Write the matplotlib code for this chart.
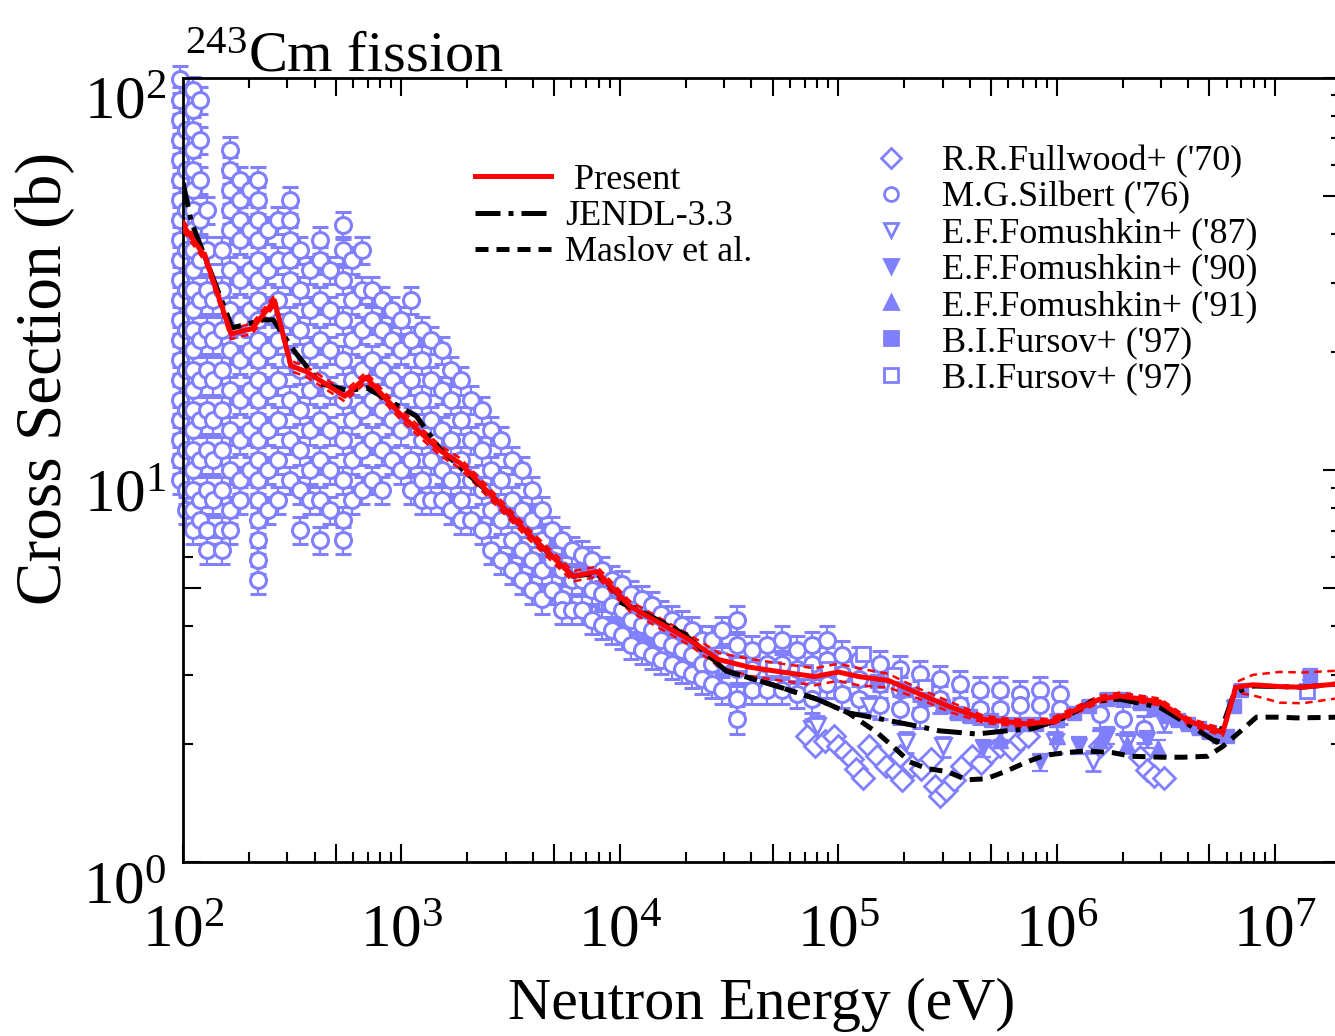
import matplotlib
matplotlib.use("Agg")
import matplotlib.pyplot as plt
import matplotlib.transforms as mtrans
import numpy as np
from matplotlib.ticker import FixedLocator, FuncFormatter
from matplotlib.lines import Line2D

plt.rcParams['font.family'] = ['Liberation Serif', 'DejaVu Serif']
plt.rcParams['mathtext.fontset'] = 'custom'
plt.rcParams['mathtext.rm'] = 'Liberation Serif'
plt.rcParams['mathtext.it'] = 'Liberation Serif:italic'
plt.rcParams['mathtext.bf'] = 'Liberation Serif:bold'

BLUE = '#8080ff'

# ---------------- evaluations ----------------
present_E = [100, 126, 166, 207, 262, 312, 366, 550, 688, 983, 1500, 1853, 2530, 3880,
             6100, 7850, 11100, 20700, 28400, 39000, 55000, 78000, 100000, 124000,
             170000, 229000, 322000, 465000, 730000, 945000, 1.24e6, 1.57e6, 1.94e6,
             2.96e6, 3.96e6, 5.75e6, 6.6e6, 7.9e6, 1.05e7, 1.33e7, 2.0e7]
present_xs = [42, 35, 22.2, 22.9, 27.0, 18.4, 17.8, 15.4, 17.2, 13.9, 11.2, 10.4, 8.7, 6.8,
              5.35, 5.5, 4.49, 3.69, 3.28, 3.14, 3.05, 2.97, 3.05, 2.97,
              2.9, 2.7, 2.49, 2.31, 2.25, 2.28, 2.45, 2.6, 2.65,
              2.56, 2.29, 2.14, 2.79, 2.83, 2.80, 2.79, 2.85]
present_relunc = [0.03, 0.03, 0.03, 0.03, 0.03, 0.03, 0.03, 0.03, 0.03, 0.03, 0.03, 0.03, 0.03, 0.03,
                  0.03, 0.03, 0.03, 0.03, 0.04, 0.05, 0.05, 0.05, 0.05, 0.05,
                  0.04, 0.03, 0.03, 0.02, 0.02, 0.02, 0.02, 0.02, 0.02,
                  0.02, 0.02, 0.02, 0.03, 0.06, 0.09, 0.09, 0.08]

jendl_E = [100, 109, 127, 168, 232, 259, 325, 424, 575, 689, 1170, 1500, 2530, 3880,
           6100, 7850, 11100, 19300, 30600, 50000, 80000, 111000, 160000, 230000,
           290000, 430000, 590000, 780000, 1.1e6, 1.45e6, 1.94e6, 2.96e6, 3.96e6,
           5.4e6, 6.5e6, 7.9e6, 1.33e7, 2.0e7]
jendl_xs = [54, 43, 34.5, 23.0, 24.1, 24.1, 20.0, 16.6, 15.9, 16.2, 13.7, 11.3, 8.7, 6.8,
            5.35, 5.45, 4.5, 3.85, 3.07, 2.83, 2.6, 2.4, 2.31, 2.22,
            2.16, 2.12, 2.16, 2.19, 2.34, 2.57, 2.6, 2.48, 2.25,
            2.02, 2.7, 2.81, 2.79, 2.85]

maslov_E = [10000, 20000, 30600, 50000, 80000, 111000, 150000, 178000, 212000, 255000,
            315000, 387000, 475000, 580000, 730000, 880000, 1.1e6, 1.36e6, 1.8e6, 2.2e6,
            3.0e6, 3.8e6, 4.9e6, 5.75e6, 6.9e6, 8.2e6, 1.05e7, 1.25e7, 2.0e7]
maslov_xs = [4.6, 3.8, 3.07, 2.83, 2.6, 2.4, 2.14, 1.97, 1.80, 1.73,
             1.70, 1.62, 1.63, 1.70, 1.80, 1.87, 1.90, 1.92, 1.90, 1.86,
             1.85, 1.85, 1.86, 1.97, 2.15, 2.34, 2.34, 2.33, 2.34]

# ---------------- experimental data ----------------
silbert_col_E = [97, 103, 111, 120, 129, 137, 151, 164, 182, 203,
                 220, 245, 272, 309, 343, 381, 423, 471, 540, 593,
                 659, 732, 814, 905, 1000, 1110, 1240, 1370, 1530, 1690,
                 1880, 2090, 2330, 2580, 2870, 3190, 3550, 3940, 4380, 4870,
                 5410, 6010, 6680, 7430, 8250, 9170, 10200, 11300, 12600, 14000,
                 15500, 17300, 19200, 21300, 23700, 26300, 29300, 34300, 40200, 47100,
                 55100, 64600, 75700, 88600, 104000, 124000, 155000, 191000, 236000, 291000,
                 360000, 444000, 548000, 677000, 836000, 1030000, 1570000, 2000000, 2500000]
silbert_col_xs = [
    [99, 87.7, 78, 69.3, 61.6, 54.8, 48.7, 43.3, 38.5, 34.3, 30.5, 27.1, 24.1, 21.4, 19.1, 16.9, 15.1, 13.4, 11.9, 10.6, 9.43],
    [73.5, 58.1, 45.9, 36.4, 28.7, 22.7, 18.0, 14.2, 11.2, 8.89, 7.91],
    [92.9, 82.7, 73.5, 65.3, 58.1, 51.7, 45.9, 40.9, 36.4, 32.3, 28.7, 25.6, 22.7, 20.2, 18.0, 16.0, 14.2, 12.6, 11.2, 10.0, 8.89, 7.91, 7.03],
    [87.7, 69.3, 54.8, 43.3, 34.3, 27.1, 21.4, 16.9, 13.4, 10.6, 8.39, 7.46],
    [45.9, 36.4, 28.7, 22.7, 18.0, 14.2, 11.2, 8.89, 7.03, 6.25],
    [27.1, 21.4, 16.9, 13.4, 10.6, 8.39],
    [36.4, 28.7, 22.7, 18.0, 14.2, 11.2, 8.89, 7.03, 6.25],
    [65.3, 58.1, 51.7, 45.9, 40.9, 32.3, 25.6, 20.2, 16.0, 12.6, 10.0, 7.91, 7.03],
    [54.8, 48.7, 43.3, 38.5, 30.5, 24.1, 19.1, 15.1, 11.9, 9.43, 8.39],
    [51.7, 40.9, 32.3, 25.6, 20.2, 16.0, 12.6, 10.0],
    [54.8, 48.7, 43.3, 38.5, 34.3, 30.5, 27.1, 24.1, 21.4, 19.1, 16.9, 15.1, 13.4, 11.9, 10.6, 9.43, 8.39, 7.46, 6.63, 5.90, 5.25],
    [40.9, 32.3, 25.6, 20.2, 16.0, 12.6, 10.0, 7.91],
    [43.3, 34.3, 27.1, 21.4, 16.9, 13.4, 10.6, 8.39],
    [48.7, 43.3, 38.5, 34.3, 30.5, 24.1, 19.1, 15.1, 11.9, 9.43],
    [36.4, 28.7, 22.7, 18.0, 14.2, 11.2, 8.89, 7.03],
    [32.3, 25.6, 20.2, 16.0, 12.6, 10.0, 8.39],
    [38.5, 34.3, 27.1, 21.4, 16.9, 13.4, 10.6, 8.39, 6.63],
    [32.3, 25.6, 20.2, 16.0, 12.6, 10.0, 7.91],
    [42.1, 36.4, 30.5, 24.1, 19.1, 15.1, 11.9, 9.43, 7.46, 6.63],
    [34.3, 27.1, 21.4, 16.9, 13.4, 10.6, 8.39],
    [36.4, 28.7, 22.7, 18.0, 14.2, 11.2, 8.89],
    [28.7, 24.1, 19.1, 15.1, 11.9, 9.43],
    [27.1, 22.7, 18.0, 14.2, 11.2, 8.89],
    [25.6, 21.4, 16.9, 13.4, 10.6],
    [24.1, 20.2, 16.0, 12.6, 10.0],
    [27.1, 21.4, 16.9, 13.4, 10.6, 8.89],
    [22.7, 19.1, 15.1, 11.9, 9.43, 8.39],
    [21.4, 16.9, 13.4, 10.6, 8.39],
    [20.2, 16.0, 12.6, 10.0, 8.39],
    [18.0, 15.1, 11.9, 9.43, 7.91],
    [16.9, 13.4, 10.6, 8.39, 7.46],
    [15.1, 11.9, 9.43, 7.46],
    [14.2, 11.2, 8.89, 7.03],
    [12.6, 10.0, 7.91, 6.25],
    [11.9, 9.43, 7.46, 5.90],
    [10.6, 8.39, 6.63, 5.56],
    [10.0, 7.91, 6.25, 5.25],
    [8.89, 7.46, 5.90, 4.95],
    [7.91, 6.63, 5.56, 4.67],
    [7.03, 5.90, 4.95],
    [6.63, 5.56, 4.67, 4.40],
    [6.25, 5.25, 4.40],
    [6.08, 5.25, 4.40],
    [5.90, 4.95, 4.15],
    [5.56, 4.81, 4.03],
    [5.25, 4.53, 3.91],
    [5.10, 4.40, 3.80],
    [4.81, 4.15, 3.58],
    [4.67, 4.03, 3.48],
    [4.53, 3.91, 3.38],
    [4.28, 3.69, 3.28],
    [4.15, 3.58, 3.19],
    [4.03, 3.48, 3.10],
    [3.91, 3.38, 3.01],
    [3.69, 3.19, 2.92],
    [3.69, 3.19, 2.84],
    [3.91, 3.28, 2.75],
    [4.15, 3.58, 3.10, 2.60, 2.31],
    [3.48, 3.10, 2.75],
    [3.58, 3.19, 2.75],
    [3.69, 3.19, 2.75],
    [3.48, 3.10, 2.68],
    [3.58, 3.19, 2.75, 2.60],
    [3.69, 3.28, 2.84],
    [3.38, 3.01, 2.68],
    [3.28, 2.92, 2.60],
    [3.19, 2.84, 2.52],
    [3.10, 2.75, 2.45],
    [3.01, 2.68, 2.38],
    [2.92, 2.60],
    [2.84, 2.52],
    [2.75, 2.45],
    [2.75, 2.45],
    [2.68, 2.52],
    [2.75, 2.52],
    [2.68, 2.45],
    [2.38],
    [2.31],
    [2.18],
]
silbert_relerr = 0.08

fullwood_E = [72000, 78000, 87000, 96000, 100000, 107000, 115000, 120000, 130000, 138000,
              150000, 166000, 184000, 191000, 196000, 217000, 240000, 265000, 277000, 291000,
              310000, 340000, 370000, 410000, 450000, 500000, 548000, 625000, 677000, 740000,
              1.57e6, 2.4e6, 2.6e6, 2.8e6, 3.1e6]
fullwood_xs = [2.10, 1.98, 2.03, 2.10, 1.97, 1.91, 1.83, 1.73, 1.64, 1.97,
               1.86, 1.76, 1.70, 1.86, 1.62, 1.76, 1.73, 1.83, 1.56, 1.47,
               1.53, 1.62, 1.76, 1.86, 1.79, 1.91, 1.97, 1.94, 2.05, 2.10,
               1.98, 1.85, 1.72, 1.66, 1.64]

fom87_E = [76000, 80000, 138000, 204000, 300000, 548000, 980000, 1.47e6, 2.1e6, 3.1e6]
fom87_xs = [2.18, 2.22, 2.50, 2.02, 1.97, 2.18, 2.02, 1.81, 2.02, 2.28]

fom90_E = [460000, 840000, 1.27e6, 1.7e6, 2.6e6]
fom90_xs = [1.95, 1.80, 1.98, 2.10, 2.05]

fom91_E = [548000, 1.0e6, 1.57e6, 2.1e6, 2.9e6]
fom91_xs = [2.05, 2.10, 2.05, 2.00, 1.95]

fursov_a_E = [150000, 200000, 250000, 300000, 350000, 400000, 500000, 600000, 700000, 800000,
              1.0e6, 1.2e6, 1.4e6, 1.7e6, 2.0e6, 2.4e6, 2.8e6, 3.2e6, 3.6e6, 4.0e6,
              4.5e6, 5.0e6, 5.5e6, 6.0e6, 6.5e6, 7.0e6, 1.45e7]
fursov_a_xs = [2.90, 2.75, 2.60, 2.50, 2.40, 2.35, 2.30, 2.25, 2.25, 2.25,
               2.30, 2.40, 2.50, 2.60, 2.60, 2.55, 2.45, 2.35, 2.30, 2.25,
               2.20, 2.15, 2.10, 2.10, 2.50, 2.75, 3.00]

fursov_b_E = [35000, 50000, 70000, 90000, 130000, 180000, 250000, 1.4e7]
fursov_b_xs = [3.20, 3.10, 3.05, 3.10, 3.40, 3.00, 2.80, 2.73]

# ---------------- figure ----------------
fig = plt.figure(figsize=(13.35, 10.36), dpi=100)
W, H = 1335.0, 1036.0
ax = fig.add_axes([183 / W, (H - 862) / H, (1341 - 183) / W, (862 - 77.5) / H])

sE = []
sX = []
for e, col in zip(silbert_col_E, silbert_col_xs):
    for v in col:
        sE.append(e)
        sX.append(v)
sE = np.array(sE)
sX = np.array(sX)

EBK = dict(ecolor=BLUE, elinewidth=1.6, capsize=6, capthick=1.6)
eb = ax.errorbar(sE, sX, yerr=sX * silbert_relerr, fmt='o', ms=11.5, mfc='white', mec=BLUE,
                 mew=2.2, zorder=2, **EBK)
for art in list(eb.lines[1]) + list(eb.lines[2]):
    art.set_clip_on(False)
eb.lines[0].set_clip_on(False)

ax.errorbar(fom87_E, fom87_xs, yerr=np.array(fom87_xs) * 0.06, fmt='v', ms=11, mfc='white',
            mec=BLUE, mew=2.0, zorder=2, **EBK)
ax.errorbar(fursov_b_E, fursov_b_xs, yerr=np.array(fursov_b_xs) * 0.04, fmt='s', ms=10.5, mfc='white',
            mec=BLUE, mew=2.0, zorder=2, **EBK)
ax.plot(fullwood_E, fullwood_xs, 'D', ms=11, mfc='white', mec=BLUE, mew=2.0, zorder=2.2)
ax.errorbar(fom90_E, fom90_xs, yerr=np.array(fom90_xs) * 0.05, fmt='v', ms=11, mfc=BLUE,
            mec=BLUE, zorder=2.3, **EBK)
ax.errorbar(fom91_E, fom91_xs, yerr=np.array(fom91_xs) * 0.05, fmt='^', ms=11, mfc=BLUE,
            mec=BLUE, zorder=2.3, **EBK)
ax.errorbar(fursov_a_E, fursov_a_xs, yerr=np.array(fursov_a_xs) * 0.03, fmt='s', ms=10.5, mfc=BLUE,
            mec=BLUE, zorder=2.3, **EBK)

pE = np.array(present_E)
pX = np.array(present_xs)
pU = np.array(present_relunc)
ax.plot(pE, pX * (1 + pU), color='red', lw=1.8, dashes=(3, 2.2), zorder=4)
ax.plot(pE, pX * (1 - pU), color='red', lw=1.8, dashes=(3, 2.2), zorder=4)
ax.plot(maslov_E, maslov_xs, color='black', lw=3.6, dashes=(2.6, 1.6), zorder=5)
ax.plot(jendl_E, jendl_xs, color='black', lw=3.6, dashes=(5, 1.6, 1, 1.6), zorder=5)
ax.plot(pE, pX, color='red', lw=3.6, zorder=6)

ax.set_xscale('log')
ax.set_yscale('log')
ax.set_xlim(100, 2e7)
ax.set_ylim(1, 100)

xmaj = [1e2, 5e2, 1e3, 5e3, 1e4, 5e4, 1e5, 5e5, 1e6, 5e6, 1e7]
xmin = [k * 10.0 ** n for n in range(2, 8) for k in (2, 3, 4, 6, 7, 8, 9)]
ymaj = [1, 5, 10, 50, 100]
ymin = [k * 10.0 ** n for n in range(0, 2) for k in (2, 3, 4, 6, 7, 8, 9)]


def fmt(v, pos):
    lv = np.log10(v)
    if abs(lv - round(lv)) < 1e-6:
        return r'$10^{%d}$' % int(round(lv))
    return ''


ax.xaxis.set_major_locator(FixedLocator(xmaj))
ax.xaxis.set_minor_locator(FixedLocator(xmin))
ax.yaxis.set_major_locator(FixedLocator(ymaj))
ax.yaxis.set_minor_locator(FixedLocator(ymin))
ax.xaxis.set_major_formatter(FuncFormatter(fmt))
ax.yaxis.set_major_formatter(FuncFormatter(fmt))
ax.xaxis.set_minor_formatter(FuncFormatter(lambda v, p: ''))
ax.yaxis.set_minor_formatter(FuncFormatter(lambda v, p: ''))
ax.tick_params(which='both', direction='in', top=True, right=True, width=1.5, labelsize=44)
ax.tick_params(which='major', length=13)
ax.tick_params(which='minor', length=7)
ax.tick_params(axis='x', which='major', pad=30)
ax.tick_params(axis='y', which='major', pad=12)
for s in ax.spines.values():
    s.set_linewidth(2.0)

yoff = mtrans.ScaledTranslation(0, -0.20, fig.dpi_scale_trans)
for lab in ax.yaxis.get_majorticklabels():
    lab.set_transform(lab.get_transform() + yoff)

fig.text(762 / W, 1 - 1005 / H, 'Neutron Energy (eV)', fontsize=43, ha='center', va='center')
fig.text(45 / W, 1 - 378 / H, 'Cross Section (b)', fontsize=47, ha='center', va='center', rotation=90)
fig.text(185 / W, 1 - 72 / H, r'$^{243}$Cm fission', fontsize=42, ha='left', va='baseline')

h1 = [Line2D([], [], color='red', lw=3.6),
      Line2D([], [], color='black', lw=3.6, dashes=(5, 1.6, 1, 1.6)),
      Line2D([], [], color='black', lw=3.6, dashes=(2.6, 1.6))]
leg1 = ax.legend(h1, [' Present', 'JENDL-3.3', 'Maslov et al.'], loc='upper left',
                 bbox_to_anchor=(0.252, 0.890), frameon=False, fontsize=26,
                 handlelength=2.1, handletextpad=0.4, labelspacing=0.08,
                 borderpad=0, borderaxespad=0)
ax.add_artist(leg1)

mk = dict(ls='none', color=BLUE, mec=BLUE, mew=2.0, ms=10)
h2 = [Line2D([], [], marker='D', mfc='white', **mk),
      Line2D([], [], marker='o', mfc='white', **mk),
      Line2D([], [], marker='v', mfc='white', **mk),
      Line2D([], [], marker='v', mfc=BLUE, **mk),
      Line2D([], [], marker='^', mfc=BLUE, **mk),
      Line2D([], [], marker='s', mfc=BLUE, **mk),
      Line2D([], [], marker='s', mfc='white', **mk)]
labels2 = ["R.R.Fullwood+ ('70)", "M.G.Silbert ('76)", "E.F.Fomushkin+ ('87)",
           "E.F.Fomushkin+ ('90)", "E.F.Fomushkin+ ('91)", "B.I.Fursov+ ('97)", "B.I.Fursov+ ('97)"]
ax.legend(h2, labels2, loc='upper left', bbox_to_anchor=(0.596, 0.914), frameon=False,
          fontsize=26, handlelength=1.0, handletextpad=0.9, labelspacing=0.08,
          borderpad=0, borderaxespad=0, numpoints=1)

fig.savefig('out.png', dpi=100)
